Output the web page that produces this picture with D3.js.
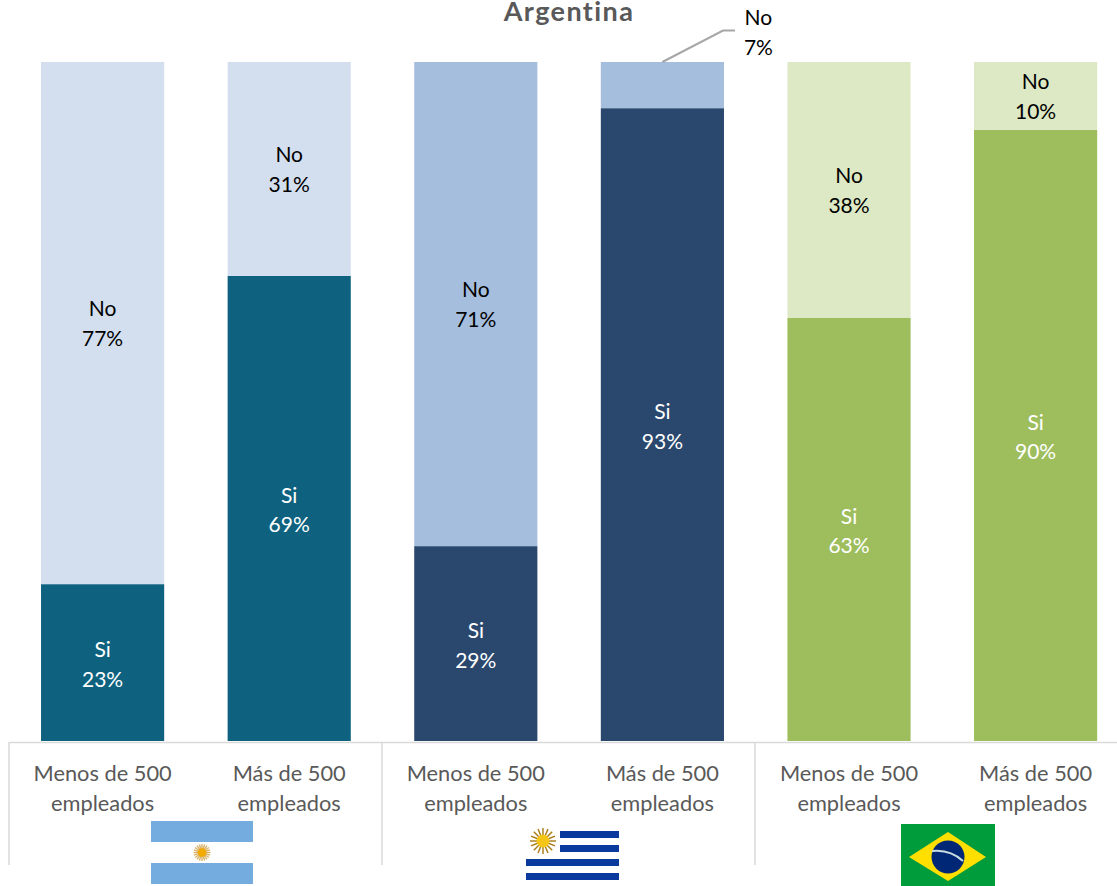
<!DOCTYPE html>
<html><head><meta charset="utf-8">
<script src="https://cdn.jsdelivr.net/npm/d3@7"></script>
<style>html,body{margin:0;padding:0;background:#fff;overflow:hidden}svg{display:block}text{font-family:Lato,"Open Sans",sans-serif}</style>
</head><body><svg id="c" width="1117" height="886"></svg>
<script>
const chartTitle = "Argentina";
const categories = ["Arg menos","Arg mas","Uru menos","Uru mas","Bra menos","Bra mas"];
const categoryLines = [["Menos de 500","empleados"],["Más de 500","empleados"],["Menos de 500","empleados"],["Más de 500","empleados"],["Menos de 500","empleados"],["Más de 500","empleados"]];
const siValues = [23.1,68.5,28.7,93.2,62.3,90.0];
const noValues = [76.9,31.5,71.3,6.8,37.7,10.0];
const siLabels = ["23%","69%","29%","93%","63%","90%"];
const noLabels = ["77%","31%","71%","7%","38%","10%"];
const siColors = ["#0F627F","#0F627F","#2A486E","#2A486E","#9EBE5E","#9EBE5E"];
const noColors = ["#D3DFEF","#D3DFEF","#A6BEDD","#A6BEDD","#DDE8C4","#DDE8C4"];

const svg = d3.select("#c");
const x = d3.scaleBand().domain(categories).range([9.3,1128.9]).paddingInner(0.34).paddingOuter(0.17);
const y = d3.scaleLinear().domain([0,100]).range([741,62]);
const fs = 21;

svg.append("text").attr("x",569).attr("y",20.5).attr("text-anchor","middle").attr("font-size",27).attr("font-weight",700).attr("letter-spacing",1.4).attr("fill","#595959").text(chartTitle);

categories.forEach((c,i)=>{
  const bx = x(c), bw = x.bandwidth(), cx = bx+bw/2;
  svg.append("rect").attr("x",bx).attr("width",bw).attr("y",y(siValues[i])).attr("height",y(0)-y(siValues[i])).attr("fill",siColors[i]);
  svg.append("rect").attr("x",bx).attr("width",bw).attr("y",y(100)).attr("height",y(siValues[i])-y(100)).attr("fill",noColors[i]);
  const sy = y(siValues[i]/2);
  const siText = svg.append("text").attr("text-anchor","middle").attr("font-size",fs).attr("fill","#fff");
  siText.append("tspan").attr("x",cx).attr("y",sy-5.5).text("Si");
  siText.append("tspan").attr("x",cx).attr("y",sy+24).text(siLabels[i]);
  const outside = noValues[i] < 8;
  const ncx = outside ? cx+96 : cx;
  const ny = outside ? 25 : y(siValues[i]+noValues[i]/2)-7;
  const noText = svg.append("text").attr("text-anchor","middle").attr("font-size",fs).attr("fill","#000");
  noText.append("tspan").attr("x",ncx).attr("y",ny).text("No");
  noText.append("tspan").attr("x",ncx).attr("y",ny+30).text(noLabels[i]);
  if(outside){
    svg.append("polyline").attr("points",[[cx,62],[723,30.5],[735,30.5]].join(" ")).attr("fill","none").attr("stroke","#A6A6A6").attr("stroke-width",2);
  }
  const lab = svg.append("text").attr("text-anchor","middle").attr("font-size",21.8).attr("fill","#595959");
  categoryLines[i].forEach((l,k)=>lab.append("tspan").attr("x",cx).attr("y",781+k*29.5).text(l));
});

const axis = svg.append("g").attr("stroke","#D9D9D9").attr("stroke-width",1.5);
axis.append("line").attr("x1",9).attr("x2",1117).attr("y1",742.5).attr("y2",742.5);
[9,382,755].forEach(v=>axis.append("line").attr("x1",v).attr("x2",v).attr("y1",742).attr("y2",865));

// Flags
function sun(cx,cy,r,rays,col,core){
  const g = svg.append("g");
  d3.range(rays).forEach(i=>{const a=i/rays*2*Math.PI;
    g.append("line").attr("x1",cx).attr("y1",cy).attr("x2",cx+r*Math.cos(a)).attr("y2",cy+r*Math.sin(a)).attr("stroke",col).attr("stroke-width",1.4);});
  g.append("circle").attr("cx",cx).attr("cy",cy).attr("r",r*0.5).attr("fill",core);
}
const ar = svg.append("g");
ar.append("rect").attr("x",151).attr("y",821).attr("width",102).attr("height",21).attr("fill","#74ACDF");
ar.append("rect").attr("x",151).attr("y",863).attr("width",102).attr("height",21).attr("fill","#74ACDF");
sun(202,852.5,8.5,20,"#D9B36A","#F2A900");

[[560,831],[560,845],[526,859],[526,873]].forEach(s=>{
  svg.append("rect").attr("x",s[0]).attr("y",s[1]).attr("width",619-s[0]).attr("height",7).attr("fill","#0B3A9E");
});
sun(543,841,13,16,"#A87A10","#F5C518");

svg.append("rect").attr("x",901).attr("y",824).attr("width",94).attr("height",62).attr("fill","#009C3B");
svg.append("polygon").attr("points","909,857 948,832 986,857 948,881").attr("fill","#FFDF00");
svg.append("circle").attr("cx",948).attr("cy",857).attr("r",16.5).attr("fill","#002776");
svg.append("path").attr("d","M932,851 Q950,849 963,861").attr("fill","none").attr("stroke","#C9DDE0").attr("stroke-width",2);
</script></body></html>
